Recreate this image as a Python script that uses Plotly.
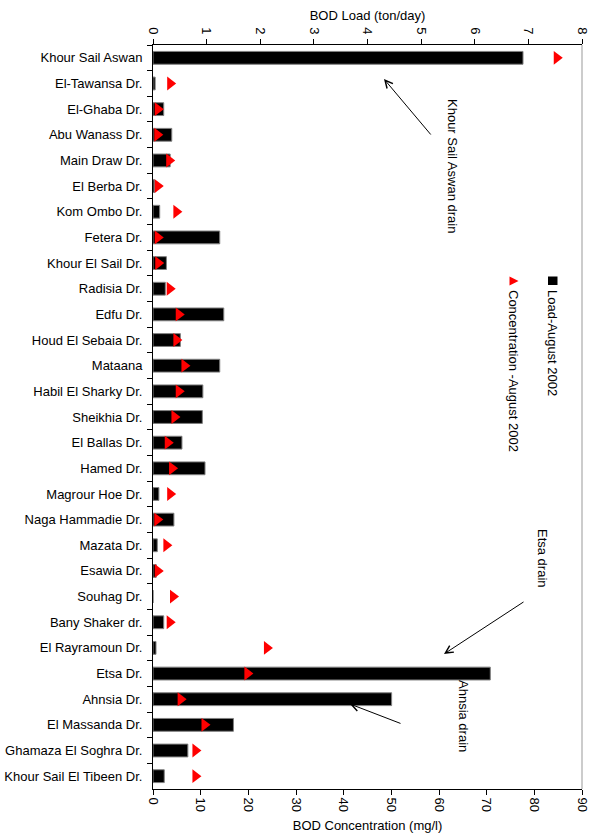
import plotly.graph_objects as go

# Drains along the river, listed from upstream (top) to downstream (bottom)
drains = [
    "Khour Sail Aswan", "El-Tawansa Dr.", "El-Ghaba Dr.", "Abu Wanass Dr.",
    "Main Draw Dr.", "El Berba Dr.", "Kom Ombo Dr.", "Fetera Dr.",
    "Khour El Sail Dr.", "Radisia Dr.", "Edfu Dr.", "Houd El Sebaia Dr.",
    "Mataana", "Habil El Sharky Dr.", "Sheikhia Dr.", "El Ballas Dr.",
    "Hamed Dr.", "Magrour Hoe Dr.", "Naga Hammadie Dr.", "Mazata Dr.",
    "Esawia Dr.", "Souhag Dr.", "Bany Shaker dr.", "El Rayramoun Dr.",
    "Etsa Dr.", "Ahnsia Dr.", "El Massanda Dr.", "Ghamaza El Soghra Dr.",
    "Khour Sail El Tibeen Dr.",
]

# BOD load, ton/day (August 2002)
bod_load = [
    6.90, 0.04, 0.20, 0.35, 0.32, 0.03, 0.125, 1.245, 0.25, 0.23,
    1.32, 0.51, 1.245, 0.93, 0.92, 0.54, 0.97, 0.11, 0.39, 0.08,
    0.06, 0.0, 0.20, 0.056, 6.29, 4.45, 1.50, 0.65, 0.21,
]

# BOD concentration, mg/l (August 2002)
bod_conc = [
    84.7, 3.6, 1.0, 0.9, 3.4, 1.0, 4.9, 1.0, 1.1, 3.5,
    5.4, 4.9, 6.6, 5.4, 4.5, 3.1, 4.0, 3.6, 0.9, 2.8,
    1.0, 4.2, 3.5, 23.9, 19.8, 5.8, 10.8, 8.9, 8.9,
]

load_ticks = [0, 1, 2, 3, 4, 5, 6, 7, 8]
conc_ticks = [0, 10, 20, 30, 40, 50, 60, 70, 80, 90]

FONT = "Arial, Liberation Sans, sans-serif"
W, H = 596, 837
PLOT_L, PLOT_R, PLOT_T, PLOT_B = 153, 582, 45, 789


def px(x):
    return (x - PLOT_L) / (PLOT_R - PLOT_L)


def py(y):
    return (PLOT_B - y) / (PLOT_B - PLOT_T)


fig = go.Figure()

fig.add_trace(go.Bar(
    y=drains, x=bod_load, orientation="h",
    xaxis="x", yaxis="y", width=0.5,
    marker=dict(color="black", line=dict(color="#808080", width=1)),
    name="Load-August 2002", showlegend=False,
))

fig.add_trace(go.Scatter(
    y=drains, x=bod_conc, mode="markers",
    xaxis="x2", yaxis="y",
    marker=dict(symbol="triangle-right", size=12, color="#ff0000",
                line=dict(width=0)),
    name="Concentration -August 2002", showlegend=False,
))

axis_font = dict(family=FONT, size=13, color="black")

annotations = []
shapes = []


# Rotated text labels for callouts and legend entries
def callout(text, cx, cy):
    annotations.append(dict(
        text=text, x=px(cx), y=py(cy), xref="paper", yref="paper",
        textangle=90, showarrow=False, xanchor="center", yanchor="middle",
        font=axis_font,
    ))


def arrow(tip_x, tip_y, tail_x, tail_y):
    annotations.append(dict(
        text="", x=px(tip_x), y=py(tip_y), xref="paper", yref="paper",
        ax=tail_x - tip_x, ay=tail_y - tip_y, showarrow=True,
        arrowhead=5, arrowsize=1.5, arrowwidth=1, arrowcolor="black",
    ))


callout("Khour Sail Aswan drain", 452, 166)
arrow(384, 79, 432, 136)
callout("Etsa drain", 543, 558)
arrow(444, 654, 525, 601)
callout("Ahnsia drain", 464, 716)
arrow(350, 704, 402, 724)

# Legend
callout("Load-August 2002", 553, 343)
callout("Concentration -August 2002", 514, 371)
shapes.append(dict(
    type="rect", xref="paper", yref="paper",
    x0=px(548), x1=px(557.5), y0=py(285), y1=py(276.5),
    fillcolor="black", line=dict(width=0),
))
shapes.append(dict(
    type="path", xref="paper", yref="paper",
    xsizemode="pixel", ysizemode="pixel",
    xanchor=px(514), yanchor=py(281),
    path="M -4.5,-4.5 L 4.5,0 L -4.5,4.5 Z",
    fillcolor="#ff0000", line=dict(width=0),
))

# Right frame edge
shapes.append(dict(
    type="line", xref="paper", yref="paper", x0=1, x1=1, y0=0, y1=1,
    line=dict(color="#999999", width=1),
))

fig.update_layout(
    width=W, height=H,
    margin=dict(l=PLOT_L, r=W - PLOT_R, t=PLOT_T, b=H - PLOT_B, pad=0,
                autoexpand=False),
    paper_bgcolor="white", plot_bgcolor="white",
    font=axis_font,
    showlegend=False,
    bargap=0.5,
    xaxis=dict(
        range=[0, 8], side="top", tickvals=load_ticks,
        ticktext=[str(v) for v in load_ticks], tickangle=90,
        showgrid=False, zeroline=False, showline=True, linecolor="black",
        linewidth=1, ticks="outside", ticklen=5, tickcolor="black",
        title=dict(text="BOD Load (ton/day)", font=axis_font, standoff=3),
        tickfont=axis_font, automargin=False,
    ),
    xaxis2=dict(
        range=[0, 90], side="bottom", overlaying="x", anchor="y",
        tickvals=conc_ticks, ticktext=[str(v) for v in conc_ticks],
        tickangle=90, showgrid=False, zeroline=False, showline=True,
        linecolor="black", linewidth=1, ticks="outside", ticklen=5,
        tickcolor="black",
        title=dict(text="BOD Concentration (mg/l)", font=axis_font, standoff=9),
        tickfont=axis_font, automargin=False,
    ),
    yaxis=dict(
        type="category", categoryorder="array", categoryarray=drains,
        range=[len(drains) - 0.5, -0.5],
        showgrid=False, zeroline=False, showline=True, linecolor="black",
        linewidth=1, ticks="outside", ticklen=5, tickcolor="black",
        tickson="boundaries", tickfont=axis_font, ticklabelstandoff=7,
        automargin=False,
    ),
    annotations=annotations,
    shapes=shapes,
)

fig.write_html("out.html")
